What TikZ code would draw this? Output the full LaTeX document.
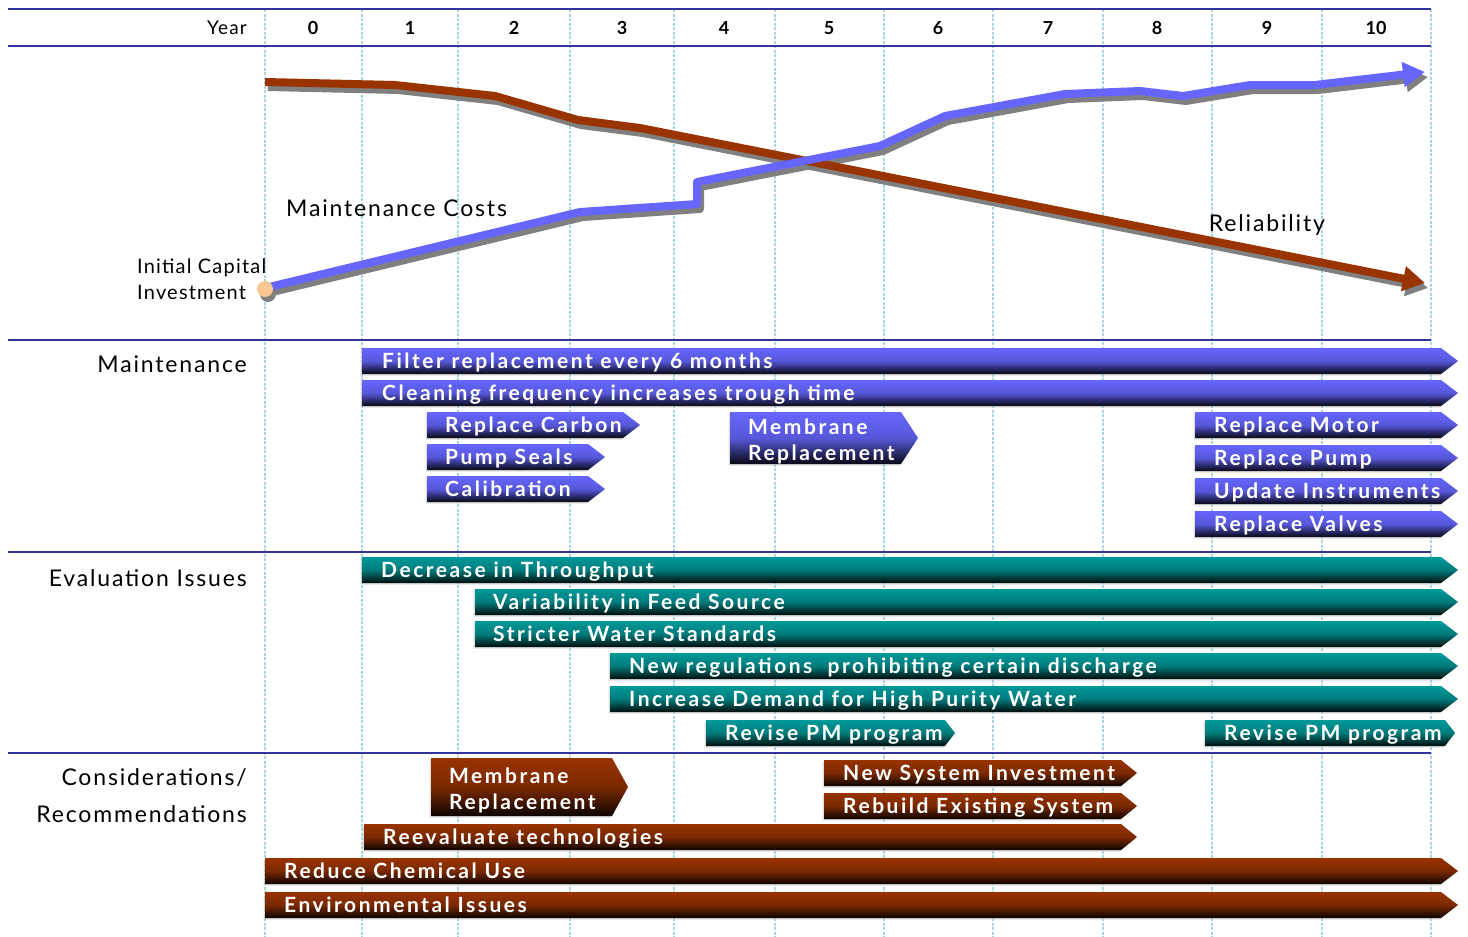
\documentclass[tikz,border=0pt]{standalone}
\usepackage{fontspec}
\setmainfont{Lato}
\newfontfamily\barfont[LetterSpace=12]{Lato}
\newfontfamily\lblfont[LetterSpace=8]{Lato}
\newfontfamily\capfont[LetterSpace=6]{Lato}
\usetikzlibrary{arrows.meta,shadows}
\definecolor{rulenavy}{HTML}{333399}
\definecolor{gridblue}{HTML}{A8D8DE}
\definecolor{costblue}{HTML}{6666FF}
\definecolor{relbrown}{HTML}{993300}
\definecolor{barblue}{HTML}{6666FF}
\definecolor{barteal}{HTML}{009999}
\definecolor{barbrown}{HTML}{993300}
\definecolor{capdot}{HTML}{FAC890}

\begin{document}
\begin{tikzpicture}[x=1pt,y=-1pt,
  rule/.style={rulenavy,line width=2pt},
  gridline/.style={gridblue,line width=2pt,dash pattern=on 3pt off 1.5pt},
  curve/.style={line width=8pt,line join=round,-{Triangle[length=22pt,width=24pt]}},
  curveshadow/.style={curve,black!50,shift={(3,5)}},
  barshadow/.style={drop shadow={shadow xshift=-1.5pt,shadow yshift=-1.5pt,fill=black!25}},
  bluebar/.style={barshadow,top color=barblue,bottom color=barblue!8!black,middle color=barblue!85!black},
  tealbar/.style={barshadow,top color=barteal,bottom color=barteal!8!black,middle color=barteal!80!black},
  brownbar/.style={barshadow,top color=barbrown,bottom color=barbrown!8!black,middle color=barbrown!80!black},
  bartext/.style={text=white,inner sep=0pt,anchor=west,font=\barfont\bfseries\fontsize{21}{26}\selectfont},
  barline/.style={bartext,text height=15pt,text depth=0pt},
  lbl/.style={inner sep=0pt,font=\lblfont\fontsize{23}{37}\selectfont},
  yr/.style={inner sep=0pt,font=\bfseries\fontsize{18}{20}\selectfont}]
\useasboundingbox (0,0) rectangle (1468,937);

% grid
\draw[gridline] (265,9) -- (265,937);
\draw[gridline] (362,9) -- (362,937);
\draw[gridline] (458,9) -- (458,937);
\draw[gridline] (570,9) -- (570,937);
\draw[gridline] (674,9) -- (674,937);
\draw[gridline] (775,9) -- (775,937);
\draw[gridline] (884,9) -- (884,937);
\draw[gridline] (993,9) -- (993,937);
\draw[gridline] (1103,9) -- (1103,937);
\draw[gridline] (1212,9) -- (1212,937);
\draw[gridline] (1322,9) -- (1322,937);
\draw[gridline] (1431,9) -- (1431,937);

\draw[rule] (8,9) -- (1431,9);
\draw[rule] (8,46) -- (1431,46);
\draw[rule] (8,340) -- (1431,340);
\draw[rule] (8,552) -- (1431,552);
\draw[rule] (8,753) -- (1431,753);

% header
\node[inner sep=0pt,anchor=east,font=\capfont\fontsize{19}{20}\selectfont] (year) at (247,28) {Year};
\node[yr] (y0) at (313,28) {0};
\node[yr] (y1) at (410,28) {1};
\node[yr] (y2) at (514,28) {2};
\node[yr] (y3) at (622,28) {3};
\node[yr] (y4) at (724,28) {4};
\node[yr] (y5) at (829,28) {5};
\node[yr] (y6) at (938,28) {6};
\node[yr] (y7) at (1048,28) {7};
\node[yr] (y8) at (1157,28) {8};
\node[yr] (y9) at (1267,28) {9};
\node[yr] (y10) at (1376,28) {10};

% curves
\draw[curveshadow] (265,82) -- (395,85) -- (495,96) -- (578,120) -- (640,128) -- (1425,283);
\draw[curveshadow] (265,288) -- (580,212) -- (697,204) -- (697,182) -- (880,146) -- (945,116) -- (1065,94) -- (1140,91) -- (1183,96) -- (1250,85) -- (1315,85) -- (1425,72);
\fill[black!50] (268,294) circle (8);
\draw[curve,relbrown] (265,82) -- (395,85) -- (495,96) -- (578,120) -- (640,128) -- (1425,283);
\draw[curve,costblue] (265,288) -- (580,212) -- (697,204) -- (697,182) -- (880,146) -- (945,116) -- (1065,94) -- (1140,91) -- (1183,96) -- (1250,85) -- (1315,85) -- (1425,72);
\fill[capdot] (265,289) circle (8);
\node[lbl,anchor=west] (costs) at (286,208) {Maintenance Costs};
\node[lbl,anchor=center] (reliab) at (1267,225) {Reliability};
\node[inner sep=0pt,anchor=west,align=left,font=\capfont\fontsize{20}{26}\selectfont] (capital) at (137,279) {Initial Capital\\Investment};

% section labels
\node[lbl,anchor=east] (maint) at (247,364) {Maintenance};
\node[lbl,anchor=east] (evalu) at (247,578) {Evaluation Issues};
\node[lbl,anchor=east,align=right] (consid) at (247,796) {Considerations/\\Recommendations};

% maintenance
\path[bluebar] (362,348) -- (1441,348) -- (1458,361) -- (1441,374) -- (362,374) -- cycle;
\node[barline] (filter) at (382,361) {Filter replacement every 6 months};
\path[bluebar] (362,380) -- (1441,380) -- (1458,393) -- (1441,406) -- (362,406) -- cycle;
\node[barline] (cleaning) at (382,393) {Cleaning frequency increases trough time};
\path[bluebar] (427,412) -- (623,412) -- (640,425) -- (623,438) -- (427,438) -- cycle;
\node[barline] (carbon) at (445,425) {Replace Carbon};
\path[bluebar] (427,444) -- (588,444) -- (605,457) -- (588,470) -- (427,470) -- cycle;
\node[barline] (seals) at (445,457) {Pump Seals};
\path[bluebar] (427,476) -- (588,476) -- (605,489) -- (588,502) -- (427,502) -- cycle;
\node[barline] (calib) at (445,489) {Calibration};
\path[bluebar] (730,412) -- (901,412) -- (918,438) -- (901,464) -- (730,464) -- cycle;
\node[bartext,align=left] (membrane) at (748,441) {Membrane\\Replacement};
\path[bluebar] (1195,412) -- (1441,412) -- (1458,425) -- (1441,438) -- (1195,438) -- cycle;
\node[barline] (motor) at (1214,425) {Replace Motor};
\path[bluebar] (1195,445) -- (1441,445) -- (1458,458) -- (1441,471) -- (1195,471) -- cycle;
\node[barline] (pump) at (1214,458) {Replace Pump};
\path[bluebar] (1195,478) -- (1441,478) -- (1458,491) -- (1441,504) -- (1195,504) -- cycle;
\node[barline] (instr) at (1214,491) {Update Instruments};
\path[bluebar] (1195,511) -- (1441,511) -- (1458,524) -- (1441,537) -- (1195,537) -- cycle;
\node[barline] (valves) at (1214,524) {Replace Valves};

% evaluation issues
\path[tealbar] (362,557) -- (1441,557) -- (1458,570) -- (1441,583) -- (362,583) -- cycle;
\node[barline] (through) at (381,570) {Decrease in Throughput};
\path[tealbar] (475,589) -- (1441,589) -- (1458,602) -- (1441,615) -- (475,615) -- cycle;
\node[barline] (feed) at (493,602) {Variability in Feed Source};
\path[tealbar] (475,621) -- (1441,621) -- (1458,634) -- (1441,647) -- (475,647) -- cycle;
\node[barline] (stricter) at (493,634) {Stricter Water Standards};
\path[tealbar] (610,653) -- (1441,653) -- (1458,666) -- (1441,679) -- (610,679) -- cycle;
\node[barline] (regul) at (629,666) {New regulations\ \ prohibiting certain discharge};
\path[tealbar] (610,686) -- (1441,686) -- (1458,699) -- (1441,712) -- (610,712) -- cycle;
\node[barline] (demand) at (629,699) {Increase Demand for High Purity Water};
\path[tealbar] (706,720) -- (945,720) -- (955,733) -- (945,746) -- (706,746) -- cycle;
\node[barline] (revisea) at (725,733) {Revise PM program};
\path[tealbar] (1205,720) -- (1445,720) -- (1455,733) -- (1445,746) -- (1205,746) -- cycle;
\node[barline] (reviseb) at (1224,733) {Revise PM program};

% considerations / recommendations
\path[brownbar] (431,758) -- (612,758) -- (628,787) -- (612,816) -- (431,816) -- cycle;
\node[bartext,align=left] (membraneb) at (449,790) {Membrane\\Replacement};
\path[brownbar] (824,760) -- (1121,760) -- (1137,773) -- (1121,786) -- (824,786) -- cycle;
\node[barline] (newsys) at (843,773) {New System Investment};
\path[brownbar] (824,793) -- (1121,793) -- (1137,806) -- (1121,819) -- (824,819) -- cycle;
\node[barline] (rebuild) at (843,806) {Rebuild Existing System};
\path[brownbar] (364,824) -- (1121,824) -- (1137,837) -- (1121,850) -- (364,850) -- cycle;
\node[barline] (reeval) at (383,837) {Reevaluate technologies};
\path[brownbar] (265,858) -- (1441,858) -- (1458,871) -- (1441,884) -- (265,884) -- cycle;
\node[barline] (chem) at (284,871) {Reduce Chemical Use};
\path[brownbar] (265,892) -- (1441,892) -- (1458,905) -- (1441,918) -- (265,918) -- cycle;
\node[barline] (envir) at (284,905) {Environmental Issues};
\end{tikzpicture}
\end{document}
